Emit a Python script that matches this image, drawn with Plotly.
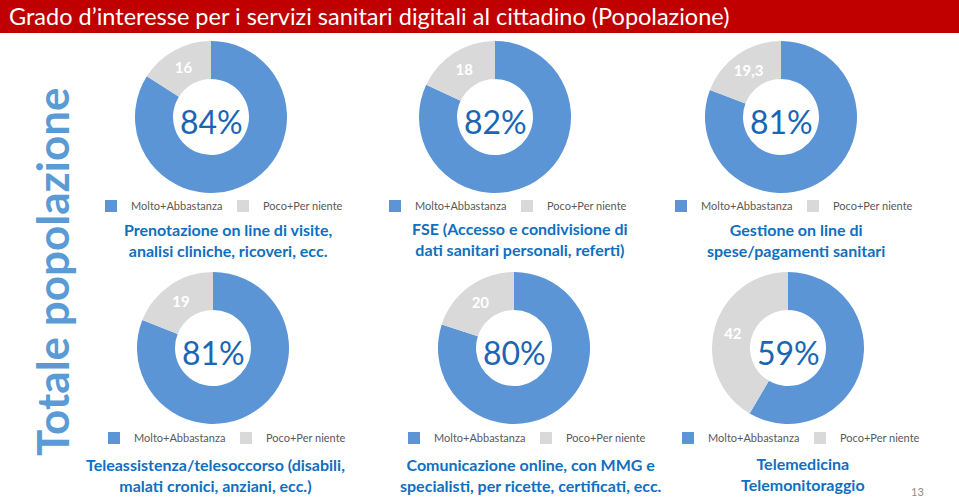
import plotly.graph_objects as go

W, H = 959, 499

# ---------------- data ----------------
labels = ["Molto+Abbastanza", "Poco+Per niente"]
services = [
    "Prenotazione on line di visite,<br>analisi cliniche, ricoveri, ecc.",
    "FSE (Accesso e condivisione di<br>dati sanitari personali, referti)",
    "Gestione on line di<br>spese/pagamenti sanitari",
    "Teleassistenza/telesoccorso (disabili,<br>malati cronici, anziani, ecc.)",
    "Comunicazione online, con MMG e<br>specialisti, per ricette, certificati, ecc.",
    "Telemedicina<br>Telemonitoraggio",
]
molto = [84, 82, 81, 81, 80, 59]
poco = [16, 18, 19.3, 19, 20, 42]
poco_text = ["16", "18", "19,3", "19", "20", "42"]
center_text = ["84%", "82%", "81%", "81%", "80%", "59%"]

title_text = "Grado d\u2019interesse per i servizi sanitari digitali al cittadino (Popolazione)"
side_text = "Totale popolazione"
page_no = "13"

# ---------------- layout (pixels) ----------------
pie_cx = [211, 495, 781, 213, 514, 788]
pie_cy = [117, 117, 117, 348, 348, 348]
pie_r = 76
leg_cx = [223, 507, 793, 226, 526, 800]
leg_cy = [206, 206, 206, 438, 438, 438]
sub_cx = [228, 520, 796, 215, 531, 803]
sub_cy = [240, 239, 240, 475, 475, 474]

BLUE = "#5B95D6"
GREY = "#D9D9D9"
DARK = "#1A66B4"
SUB = "#0F6FC0"

def px(x):
    return x / W

def py(y):
    return 1 - y / H

fig = go.Figure()
layout_legends = {}
annotations = []

for i in range(6):
    lname = "legend" if i == 0 else f"legend{i+1}"
    # trailing spaces (collapsed when rendered) keep each chart's legend separate
    lab = [l + " " * i for l in labels]
    fig.add_trace(go.Pie(
        labels=lab,
        values=[molto[i], poco[i]],
        text=["", poco_text[i]],
        textinfo="text",
        textposition="inside",
        insidetextorientation="horizontal",
        textfont=dict(family="Lato", size=15, color="white", weight="bold"),
        marker=dict(colors=[BLUE, GREY], line=dict(width=0)),
        hole=0.5,
        sort=False,
        direction="clockwise",
        rotation=0,
        domain=dict(
            x=[px(pie_cx[i] - pie_r), px(pie_cx[i] + pie_r)],
            y=[py(pie_cy[i] + pie_r), py(pie_cy[i] - pie_r)],
        ),
        legend=lname,
        showlegend=True,
        hoverinfo="label+value",
    ))
    layout_legends[lname] = dict(
        orientation="h",
        x=px(leg_cx[i]), xanchor="center",
        y=py(leg_cy[i]), yanchor="middle",
        font=dict(family="Lato", size=11, color="#595959"),
        bgcolor="rgba(0,0,0,0)",
        traceorder="normal",
        itemwidth=30,
        entrywidth=87,
        entrywidthmode="pixels",
    )
    annotations.append(dict(
        x=px(pie_cx[i]), y=py(pie_cy[i] + 4), xref="paper", yref="paper",
        text=center_text[i], showarrow=False,
        font=dict(family="Lato", size=32, color=DARK),
        xanchor="center", yanchor="middle",
    ))
    annotations.append(dict(
        x=px(sub_cx[i]), y=py(sub_cy[i]), xref="paper", yref="paper",
        text=services[i], showarrow=False,
        font=dict(family="Lato", size=16, color=SUB, weight="bold"),
        xanchor="center", yanchor="middle", align="center",
    ))

annotations.append(dict(
    x=px(7), y=py(16), xref="paper", yref="paper",
    text=title_text, showarrow=False,
    font=dict(family="Lato", size=23.5, color="white"),
    xanchor="left", yanchor="middle",
))
annotations.append(dict(
    x=px(52), y=py(272), xref="paper", yref="paper",
    text=side_text, showarrow=False, textangle=-90,
    font=dict(family="Lato", size=44, color="#5B9BD5", weight="bold"),
    xanchor="center", yanchor="middle",
))
annotations.append(dict(
    x=px(917), y=py(491), xref="paper", yref="paper",
    text=page_no, showarrow=False,
    font=dict(family="Lato", size=11, color="#8C8C8C"),
    xanchor="center", yanchor="middle",
))

fig.update_layout(
    width=W, height=H,
    margin=dict(l=0, r=0, t=0, b=0),
    paper_bgcolor="white", plot_bgcolor="white",
    annotations=annotations,
    shapes=[dict(type="rect", xref="paper", yref="paper",
                 x0=0, x1=1, y0=py(33), y1=1,
                 fillcolor="#C00000", line=dict(width=0), layer="below")],
    **layout_legends,
)

fig.write_html(
    "out.html",
    config={"displayModeBar": False},
    post_script="document.body.style.margin='0';document.body.style.overflow='hidden';",
)
